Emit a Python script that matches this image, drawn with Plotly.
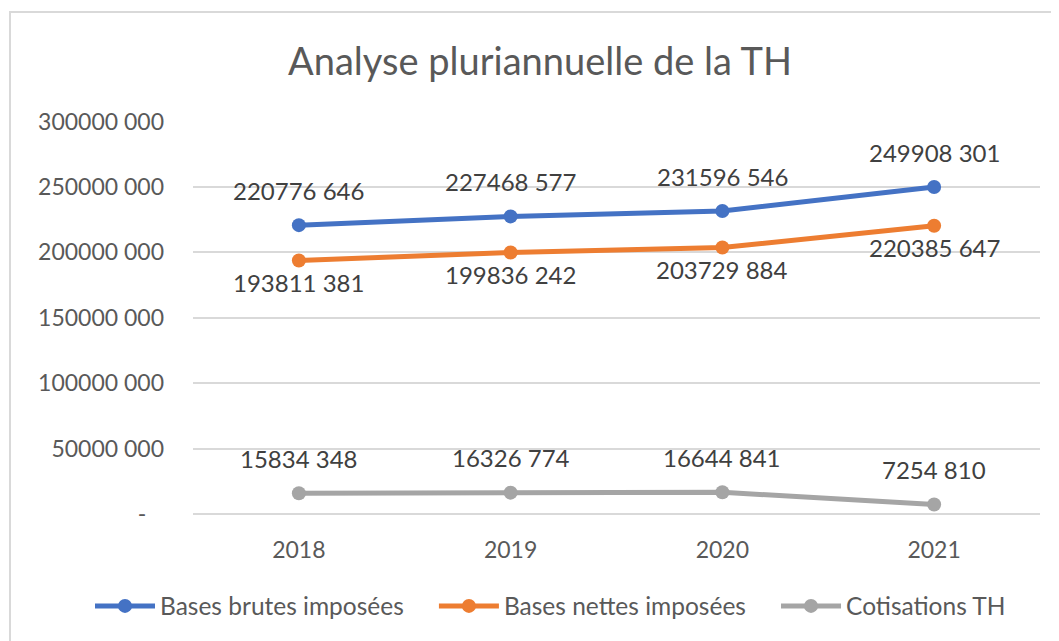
import plotly.graph_objects as go

years = ["2018", "2019", "2020", "2021"]
bases_brutes = [220776646, 227468577, 231596546, 249908301]
bases_nettes = [193811381, 199836242, 203729884, 220385647]
cotisations = [15834348, 16326774, 16644841, 7254810]
y_ticks = [0, 50000000, 100000000, 150000000, 200000000, 250000000, 300000000]

def fmt(v):
    if v == 0:
        return "-\u00a0\u00a0\u00a0"
    return f"{v // 1000} {v % 1000:03d}"

OFF = 8  # default body margin of the html page
W, H = 1059 - OFF, 641 - OFF
L, R, T, B = 193 - OFF, 1040 - OFF, 121 - OFF, 514 - OFF
pw, ph = R - L, B - T

FONT = "Lato, Carlito, 'Open Sans', sans-serif"
TXT = "#595959"
LBL = "#404040"
PAD = "\u00a0" * 4  # extra spacing between legend entries

series = [
    ("Bases brutes imposées", bases_brutes, "#4472C4", 35, PAD),
    ("Bases nettes imposées", bases_nettes, "#ED7D31", -22, PAD),
    ("Cotisations TH", cotisations, "#A5A5A5", 35, ""),
]

fig = go.Figure()
for k, (name, vals, col, shift, pad) in enumerate(series):
    fig.add_trace(go.Scatter(
        x=years, y=vals, name=name + pad, mode="lines+markers",
        line=dict(color=col, width=5),
        marker=dict(color=col, size=14),
        legendgroup=f"g{k}",
        cliponaxis=False,
    ))
    for i, v in enumerate(vals):
        fig.add_annotation(x=i, y=v, xref="x", yref="y", text=fmt(v), showarrow=False,
                           yshift=shift, font=dict(family=FONT, size=24, color=LBL))

fig.update_layout(
    width=W, height=H,
    margin=dict(l=L, r=W - R, t=T, b=H - B, pad=0),
    paper_bgcolor="white", plot_bgcolor="white",
    font=dict(family=FONT, size=23, color=TXT),
    title=dict(text="Analyse pluriannuelle de la TH", x=(540 - OFF) / W, xanchor="center",
               y=1 - (62 - OFF) / H, yanchor="middle",
               font=dict(family=FONT, size=38, color=TXT)),
    showlegend=True,
    legend=dict(orientation="h", x=(90 - OFF - L) / pw, xanchor="left",
                y=(514 - 606) / ph, yanchor="middle",
                font=dict(family=FONT, size=24.5, color=TXT),
                itemwidth=60, tracegroupgap=25, traceorder="normal"),
    xaxis=dict(type="category", range=[-0.5, 3.5], showgrid=False, zeroline=False,
               showline=False, ticks="", ticklabelstandoff=20, automargin=False,
               tickfont=dict(family=FONT, size=23, color=TXT)),
    yaxis=dict(range=[0, 300400000], tickvals=y_ticks, ticktext=[fmt(v) for v in y_ticks],
               showgrid=True, gridcolor="#d9d9d9", gridwidth=1.5,
               zeroline=True, zerolinecolor="#d9d9d9", zerolinewidth=1.5,
               showline=False, ticks="", ticklabelstandoff=28, automargin=False,
               tickfont=dict(family=FONT, size=23, color=TXT)),
)

fig.add_shape(type="rect", xref="paper", yref="paper",
              x0=(10 - OFF - L) / pw, x1=(1075 - OFF - L) / pw,
              y0=(514 - 660) / ph, y1=1 + (121 - 12) / ph,
              line=dict(color="#d9d9d9", width=2), fillcolor="rgba(0,0,0,0)", layer="below")

fig.write_html("out.html")
